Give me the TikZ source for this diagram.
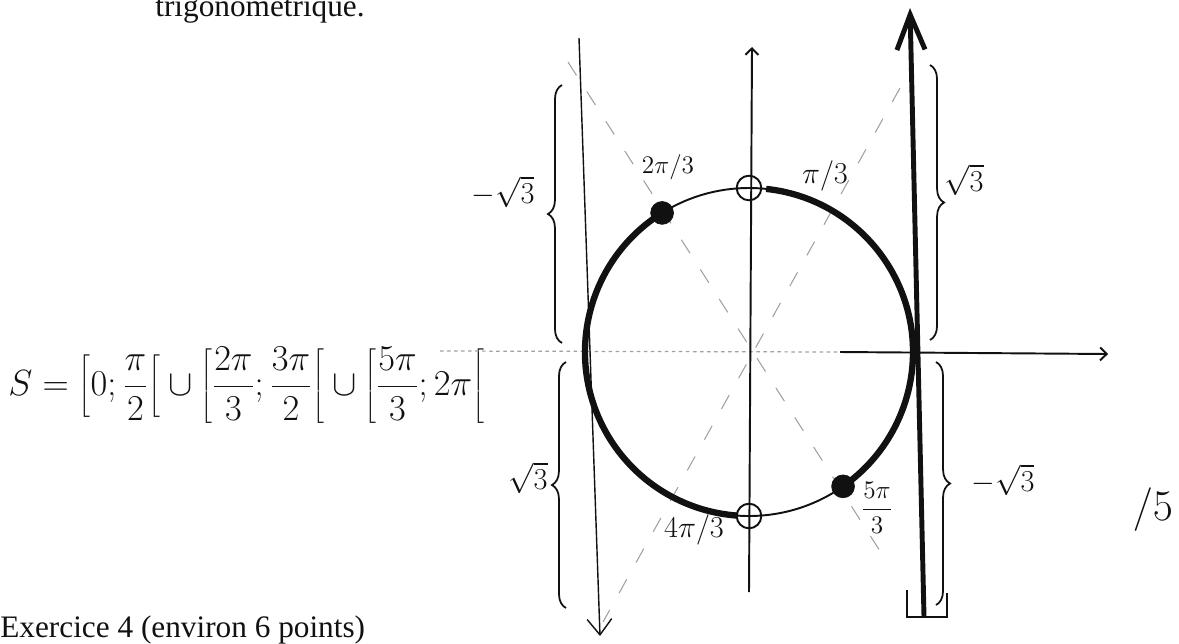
\documentclass[tikz,border=0pt]{standalone}
\usepackage{fontspec}
\setmainfont{Liberation Serif}
\usetikzlibrary{arrows.meta,decorations.pathreplacing,calc}
\definecolor{ink}{HTML}{111111}
\definecolor{faint}{HTML}{A0A0A0}
\tikzset{
  >=Straight Barb,
  every node/.style={text=ink},
  axis/.style={draw=ink,line width=1.1pt},
  tangentline/.style={draw=ink,line width=2.8pt},
  thinline/.style={draw=ink,line width=0.8pt},
  solarc/.style={draw=ink,line width=3.6pt},
  gaparc/.style={draw=ink,line width=1.1pt},
  guide/.style={draw=faint,line width=0.6pt,dash pattern=on 9pt off 11pt},
  guidedot/.style={draw=faint,line width=0.7pt,dash pattern=on 2pt off 2pt},
  bracemark/.style={draw=ink,line width=1pt,decorate,decoration={brace,amplitude=8pt}},
  dotfull/.style={circle,fill=ink,draw=ink,minimum size=13pt,inner sep=0pt},
  dotopen/.style={circle,draw=ink,line width=1.1pt,minimum size=14pt,inner sep=0pt},
  hand/.style={font=\fontsize{17}{19}\selectfont,inner sep=1pt},
  handsmall/.style={hand,font=\fontsize{14}{16}\selectfont},
  printed/.style={font=\fontsize{17.8}{20}\selectfont,inner sep=0pt},
}

\begin{document}
\begin{tikzpicture}[x=0.02cm,y=-0.02cm]
\useasboundingbox (0,0) rectangle (1179,643);

% printed text of the sheet
\node[printed,anchor=base west] (title) at (155,16) {trigonométrique.};
\node[printed,anchor=base west] (exo) at (0,637) {Exercice 4 (environ 6 points)};

% solution set
\node[font=\fontsize{19.8}{22}\selectfont,anchor=west,inner sep=0pt] (sol) at (8,385)
{$\displaystyle S=\left[0;\frac{\pi}{2}\right[\cup\left[\frac{2\pi}{3};\frac{3\pi}{2}\right[\cup\left[\frac{5\pi}{3};2\pi\right[$};

% axes
\coordinate (O) at (749,352);
\coordinate (xl) at (440,351);
\coordinate (xm) at (840,352);
\coordinate (xr) at (1108,354);
\coordinate (yb) at (749,592);
\coordinate (yt) at (752,47);
\draw[guidedot] (xl) -- (xm);
\draw[axis,->] (xm) -- (xr);
\draw[axis,->] (yb) -- (yt);

% guide lines through the points
\coordinate (g1a) at (568,62);
\coordinate (g1b) at (887,562);
\coordinate (g2a) at (900,88);
\coordinate (g2b) at (603,622);
\draw[guide] (g1a) -- (g1b);
\draw[guide] (g2a) -- (g2b);

% vertical lines
\coordinate (lt) at (579,38);
\coordinate (lb) at (600,636);
\draw[thinline,-{Straight Barb[length=9pt,width=14pt]}] (lt) -- (lb);
\coordinate (tb) at (924,617);
\coordinate (tt) at (910,8);
\draw[tangentline,-{Straight Barb[length=20pt,width=16pt]}] (tb) -- (tt);
\draw[draw=ink,line width=1.6pt] (907,590) -- (907,617) -- (947,617) -- (947,593);

% trigonometric circle
\draw[gaparc] (O) circle[radius=164];
\draw[solarc] ($(O)+(-84:164)$) arc[start angle=-84, end angle=55, radius=164];
\draw[solarc] ($(O)+(-122:164)$) arc[start angle=-122, end angle=-266, radius=164];
\node[dotfull] (p2) at ($(O)+(-122:164)$) {};
\node[dotfull] (p5) at ($(O)+(55:164)$) {};
\node[dotopen] (ptop) at ($(O)+(-90:164)$) {};
\node[dotopen] (pbot) at ($(O)+(90:164)$) {};

% angle labels
\node[handsmall] (l2) at (668,167) {$2\pi/3$};
\node[hand] (l1) at (825,176) {$\pi/3$};
\node[hand] (l4) at (694,530) {$4\pi/3$};
\node[handsmall] (l5) at (877,508) {$\displaystyle\frac{5\pi}{3}$};

% braces
\draw[bracemark] (562,343) -- (562,85);
\draw[bracemark] (566,608) -- (566,362);
\draw[bracemark] (930,65) -- (930,340);
\draw[bracemark] (936,362) -- (936,605);
\node[hand] (b1) at (503,192) {$-\sqrt{3}$};
\node[hand] (b2) at (528,478) {$\sqrt{3}$};
\node[hand] (b3) at (964,180) {$\sqrt{3}$};
\node[hand] (b4) at (1003,480) {$-\sqrt{3}$};

\node[font=\fontsize{28}{30}\selectfont] (mark) at (1153,510) {$/5$};

\end{tikzpicture}
\end{document}
